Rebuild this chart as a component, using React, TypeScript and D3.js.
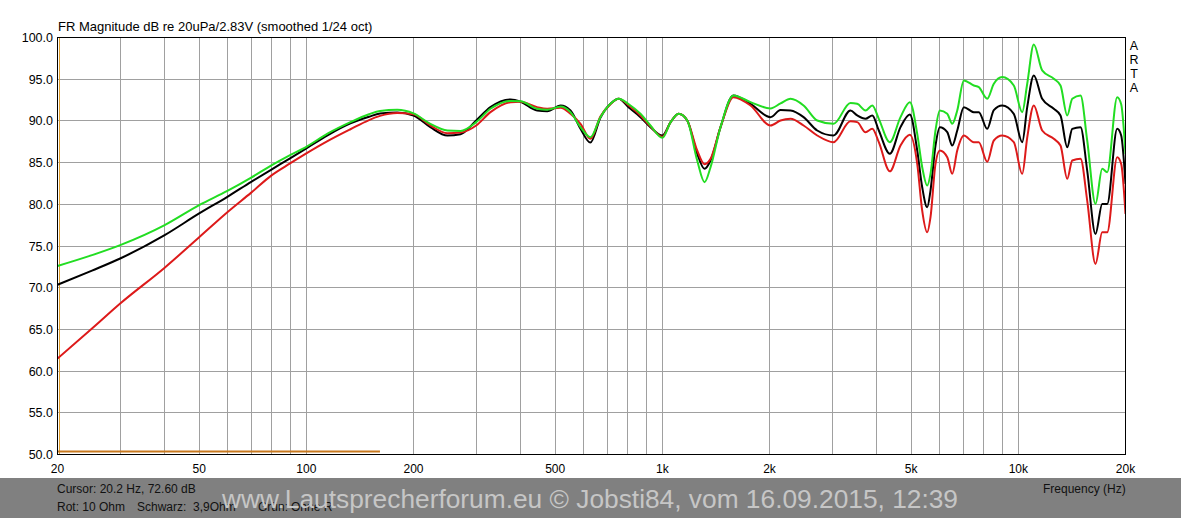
import React from "react";
import * as d3 from "d3";

const freqs = [20, 25, 30, 40, 50, 60, 70, 80, 90, 100, 115, 133, 150, 161, 180, 200, 223, 249, 271, 300, 329, 375, 400, 445, 475, 518, 552, 589, 628, 670, 715, 754, 805, 868, 926, 1000, 1055, 1111, 1175, 1253, 1314, 1366, 1457, 1584, 1769, 2013, 2148, 2292, 2493, 2723, 3026, 3376, 3527, 3722, 3888, 4056, 4355, 4667, 4958, 5200, 5370, 5546, 5666, 5852, 6017, 6314, 6522, 6736, 7030, 7498, 7744, 8177, 8534, 9010, 9711, 10254, 10592, 11052, 11668, 12578, 13136, 13720, 14172, 14952, 15612, 16472, 17204, 17768, 18954, 19450, 20000];

const redDb = [61.5, 65.1, 68.1, 72.4, 76.05, 79.05, 81.4, 83.5, 84.9, 86.1, 87.6, 89.0, 90.1, 90.6, 90.95, 90.8, 89.45, 88.53, 88.6, 89.45, 91.05, 92.25, 92.3, 91.65, 91.45, 91.57, 90.85, 89.65, 87.85, 90.53, 92.0, 92.65, 91.85, 90.65, 89.35, 88.1, 89.85, 90.85, 90.05, 86.45, 84.8, 85.45, 89.25, 92.85, 91.85, 89.45, 90.05, 90.25, 89.45, 88.25, 87.45, 89.95, 89.85, 88.65, 89.05, 87.45, 83.95, 87.05, 88.33, 84.85, 79.25, 76.65, 78.45, 84.85, 86.45, 85.65, 83.65, 86.45, 88.25, 87.45, 87.45, 85.1, 87.65, 88.25, 87.45, 83.65, 88.0, 91.85, 88.85, 87.85, 87.05, 83.05, 85.25, 85.45, 80.45, 72.85, 76.65, 76.65, 85.65, 84.85, 78.85];

const blackDb = [70.35, 72.05, 73.5, 76.3, 78.9, 80.9, 82.7, 84.2, 85.5, 86.7, 88.3, 89.7, 90.5, 90.9, 91.0, 90.65, 89.25, 88.25, 88.4, 90.05, 91.65, 92.57, 92.3, 91.25, 91.17, 91.85, 91.25, 89.05, 87.4, 90.37, 92.05, 92.65, 91.6, 90.45, 89.25, 88.25, 89.85, 90.85, 90.05, 86.05, 84.25, 85.25, 89.25, 93.05, 92.05, 90.45, 91.3, 91.25, 90.45, 88.85, 88.25, 91.25, 90.65, 90.25, 90.65, 88.85, 86.05, 89.25, 90.77, 86.45, 82.05, 79.65, 81.65, 87.05, 89.25, 88.65, 87.05, 88.85, 91.65, 91.05, 91.05, 89.05, 91.3, 91.85, 90.85, 87.45, 91.65, 95.45, 92.65, 91.45, 90.65, 86.85, 89.05, 89.25, 84.05, 76.45, 80.05, 80.05, 89.05, 88.25, 82.45];

const greenDb = [72.6, 73.9, 75.1, 77.5, 79.9, 81.6, 83.2, 84.7, 85.9, 86.9, 88.5, 89.85, 90.8, 91.2, 91.33, 90.9, 89.65, 88.85, 88.8, 89.85, 91.45, 92.4, 92.35, 91.45, 91.33, 91.73, 91.05, 89.25, 88.05, 90.45, 92.05, 92.65, 92.0, 90.85, 89.45, 87.97, 89.85, 90.85, 90.05, 85.25, 82.65, 84.45, 89.25, 93.05, 92.25, 91.5, 92.1, 92.65, 91.85, 90.05, 89.65, 92.15, 92.05, 91.25, 91.85, 90.25, 87.45, 90.45, 92.25, 88.45, 84.45, 82.25, 83.65, 88.85, 91.25, 90.85, 89.65, 91.25, 94.85, 94.25, 94.05, 92.65, 94.45, 95.25, 94.25, 91.05, 94.45, 99.15, 96.05, 95.05, 94.25, 90.65, 92.65, 93.05, 87.65, 80.05, 84.25, 83.85, 92.85, 92.0, 86.05];

const yTicks = [50, 55, 60, 65, 70, 75, 80, 85, 90, 95, 100];
const xTickValues = [20, 50, 100, 200, 500, 1000, 2000, 5000, 10000, 20000];
const xTickLabels = ["20", "50", "100", "200", "500", "1k", "2k", "5k", "10k", "20k"];
const gridFreqs: number[] = [];
[10, 100, 1000, 10000].forEach((dec) => {
  for (let m = 1; m <= 9; m++) {
    const f = dec * m;
    if (f > 20 && f < 20000) gridFreqs.push(f);
  }
});

const titleText = "FR Magnitude dB re 20uPa/2.83V (smoothed 1/24 oct)";
const artaLetters = ["A", "R", "T", "A"];
const cursorFreq = 20.2;
const markerBar = { from: 20, to: 161, db: 50.35 };
const watermark = "www.Lautsprecherforum.eu \u00A9 Jobsti84, vom 16.09.2015, 12:39";

const W = 1181;
const H = 518;
const font = "'Liberation Sans', Arial, sans-serif";

export default function App() {
  const x = d3.scaleLog().domain([20, 20000]).range([57.5, 1125.5]);
  const y = d3.scaleLinear().domain([50, 100]).range([454.5, 37.5]);
  const crisp = (v: number) => Math.round(v - 0.5) + 0.5;

  const line = d3
    .line<number>()
    .x((_, i) => x(freqs[i]))
    .y((d) => y(d))
    .curve(d3.curveMonotoneX);

  const series = [
    { data: blackDb, color: "#000000" },
    { data: redDb, color: "#dd1a1a" },
    { data: greenDb, color: "#22dd22" },
  ];

  return (
    <svg
      width={W}
      height={H}
      style={{ position: "absolute", left: 0, top: 0, background: "#fff" }}
      fontFamily={font}
    >
      <rect x={0} y={0} width={W} height={H} fill="#ffffff" />
      <text x={58} y={31} fontSize={13} fill="#000">
        {titleText}
      </text>
      {gridFreqs.map((f) => (
        <line
          key={"gx" + f}
          x1={crisp(x(f))}
          x2={crisp(x(f))}
          y1={37.5}
          y2={454.5}
          stroke="#a0a0a0"
          strokeWidth={1}
        />
      ))}
      {yTicks.slice(1, -1).map((v) => (
        <line
          key={"gy" + v}
          x1={57.5}
          x2={1125.5}
          y1={crisp(y(v))}
          y2={crisp(y(v))}
          stroke="#a0a0a0"
          strokeWidth={1}
        />
      ))}
      <line
        x1={crisp(x(cursorFreq))}
        x2={crisp(x(cursorFreq))}
        y1={37.5}
        y2={454.5}
        stroke="#e0a030"
        strokeWidth={1}
      />
      <line
        x1={x(markerBar.from)}
        x2={x(markerBar.to)}
        y1={y(markerBar.db)}
        y2={y(markerBar.db)}
        stroke="#c8781e"
        strokeWidth={2}
      />
      <defs>
        <clipPath id="plotclip">
          <rect x={57.5} y={37.5} width={1068} height={417} />
        </clipPath>
      </defs>
      <g clipPath="url(#plotclip)">
        {series.map((s, i) => (
          <path
            key={i}
            d={line(s.data) || ""}
            fill="none"
            stroke={s.color}
            strokeWidth={2}
            strokeLinejoin="round"
          />
        ))}
      </g>
      <rect x={57.5} y={37.5} width={1068} height={417} fill="none" stroke="#000" strokeWidth={1} />
      {yTicks.map((v) => (
        <text key={"yt" + v} x={53} y={y(v) + 4.5} fontSize={12.5} textAnchor="end" fill="#000">
          {v.toFixed(1)}
        </text>
      ))}
      {xTickValues.map((f, i) => (
        <text key={"xt" + f} x={x(f)} y={473} fontSize={12} textAnchor="middle" fill="#000">
          {xTickLabels[i]}
        </text>
      ))}
      {artaLetters.map((l, i) => (
        <text key={"a" + i} x={1134} y={49.5 + i * 14} fontSize={12.5} textAnchor="middle" fill="#000">
          {l}
        </text>
      ))}
      <rect x={0} y={478} width={W} height={H - 478} fill="#808080" />
      <text x={57} y={493} fontSize={12} fill="#111">
        Cursor: 20.2 Hz, 72.60 dB
      </text>
      <text x={57} y={511} fontSize={12} fill="#111">
        Rot: 10 Ohm
      </text>
      <text x={137} y={511} fontSize={12} fill="#111">
        Schwarz:
      </text>
      <text x={193} y={511} fontSize={12} fill="#111">
        3,9Ohm
      </text>
      <text x={258} y={511} fontSize={12} fill="#111">
        Grün:
      </text>
      <text x={291} y={511} fontSize={12} fill="#111">
        Ohne R
      </text>
      <text x={1043} y={493} fontSize={12} fill="#111">
        Frequency (Hz)
      </text>
      <text
        x={222}
        y={508}
        fontSize={26}
        fill="#c6c6c6"
        textLength={736}
        lengthAdjust="spacingAndGlyphs"
      >
        {watermark}
      </text>
    </svg>
  );
}
